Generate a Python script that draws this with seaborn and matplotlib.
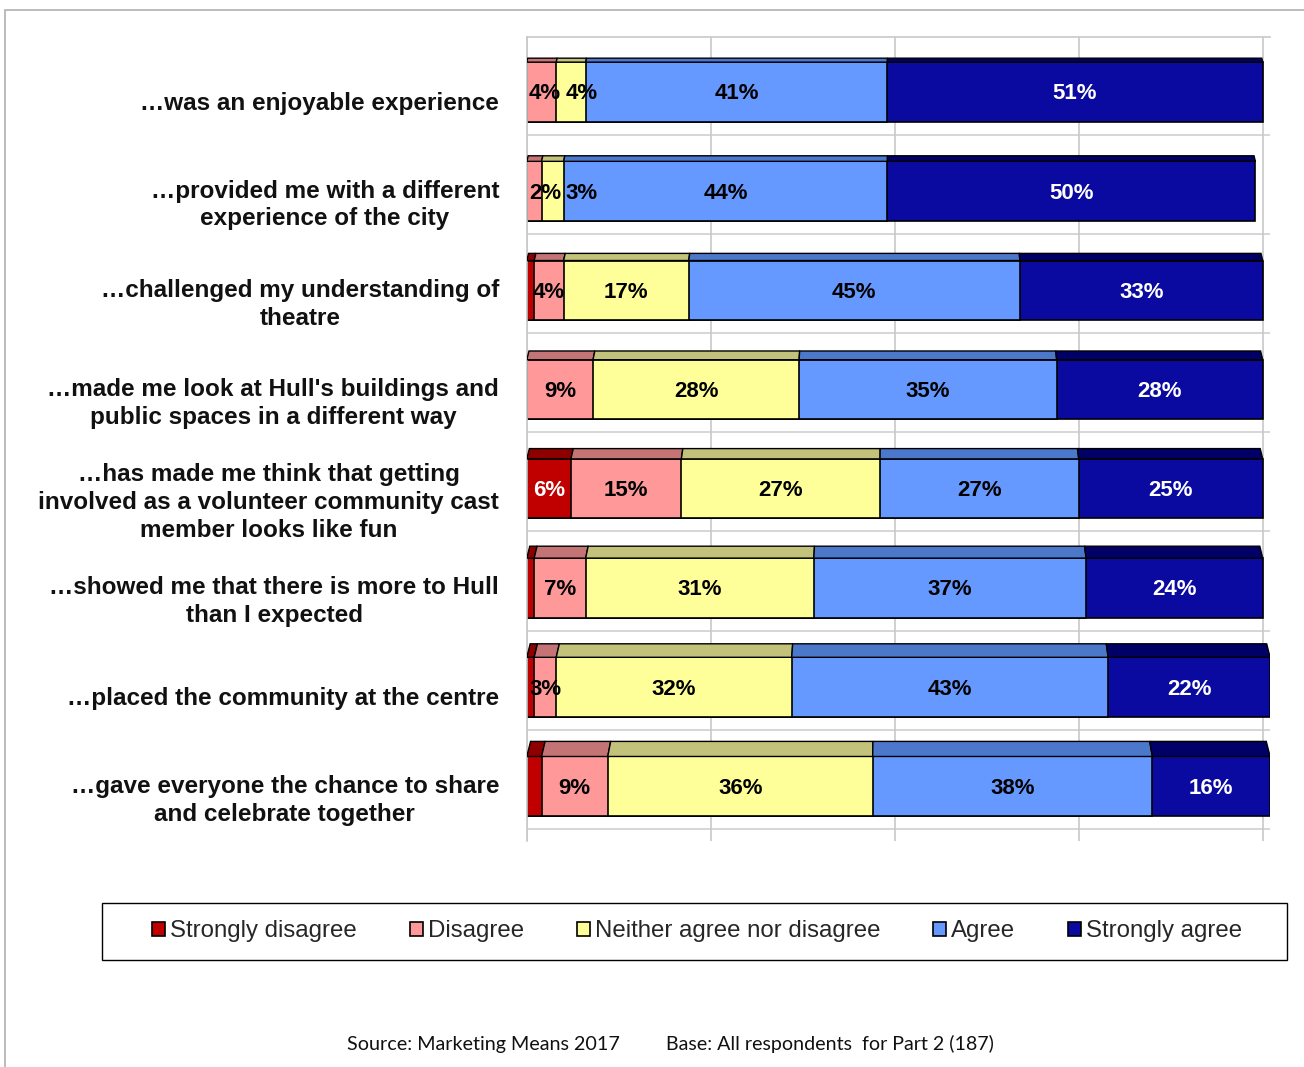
import numpy as np
import pandas as pd
import matplotlib.pyplot as plt
from matplotlib.patches import Polygon, Rectangle, Patch
from matplotlib.transforms import ScaledTranslation
import seaborn as sns

# ==========================================
# Data
# ==========================================
statements = [
    "\u2026was an enjoyable experience",
    "\u2026provided me with a different\nexperience of the city",
    "\u2026challenged my understanding of\ntheatre",
    "\u2026made me look at Hull's buildings and\npublic spaces in a different way",
    "\u2026has made me think that getting\ninvolved as a volunteer community cast\nmember looks like fun",
    "\u2026showed me that there is more to Hull\nthan I expected",
    "\u2026placed the community at the centre",
    "\u2026gave everyone the chance to share\nand celebrate together",
]

levels = [
    "Strongly disagree",
    "Disagree",
    "Neither agree nor disagree",
    "Agree",
    "Strongly agree",
]

strongly_disagree = [0, 0, 1, 0, 6, 1, 1, 2]
disagree = [4, 2, 4, 9, 15, 7, 3, 9]
neither = [4, 3, 17, 28, 27, 31, 32, 36]
agree = [41, 44, 45, 35, 27, 37, 43, 38]
strongly_agree = [51, 50, 33, 28, 25, 24, 22, 16]

front_colors = ["#C00000", "#FF9999", "#FFFF99", "#6699FF", "#0A0AA0"]
top_colors = ["#8E0000", "#C47474", "#C2C27A", "#4C78CC", "#000066"]
label_colors = ["white", "black", "black", "black", "white"]
label_min = [3, 2, 2, 2, 2]

# ==========================================
# Build long table with cumulative ends
# ==========================================
values = np.array([strongly_disagree, disagree, neither, agree, strongly_agree])
cum = values.cumsum(axis=0)

rows = []
for j, lvl in enumerate(levels):
    for i, st in enumerate(statements):
        rows.append({
            "statement": st,
            "level": lvl,
            "value": values[j, i],
            "end": cum[j, i],
        })
df = pd.DataFrame(rows)

# ==========================================
# Figure
# ==========================================
sns.set_theme(style="white")
plt.rcParams["font.family"] = ["Liberation Sans", "DejaVu Sans"]

fig = plt.figure(figsize=(13.04, 10.67), dpi=100)
ax_pos = [0.404, 0.212, 0.570, 0.753]
ax = fig.add_axes(ax_pos)

bar_h = 0.6
label_size = 16

# stacked bars: draw largest cumulative first
for j in reversed(range(len(levels))):
    sns.barplot(
        data=df[df["level"] == levels[j]],
        x="end",
        y="statement",
        orient="h",
        color=front_colors[j],
        saturation=1,
        edgecolor="black",
        linewidth=1.2,
        width=bar_h,
        ax=ax,
    )

# 3D top faces (deeper for lower rows, slight perspective toward centre)
k = 0.067
for i in range(len(statements)):
    yt = i - bar_h / 2
    depth = 0.04 + 0.016 * i
    for j in range(len(levels)):
        v = values[j, i]
        if v <= 0:
            continue
        left = cum[j, i] - v
        right = cum[j, i]
        poly = Polygon(
            [
                (left, yt),
                (right, yt),
                (right + (50 - right) * k * depth, yt - depth),
                (left + (50 - left) * k * depth, yt - depth),
            ],
            closed=True,
            facecolor=top_colors[j],
            edgecolor="black",
            linewidth=1.0,
            zorder=3,
        )
        ax.add_patch(poly)

# value labels (push small neighbouring labels apart)
px_per_unit = ax_pos[2] * 1304 / 101
em_px = label_size * 100 / 72
for i in range(len(statements)):
    prev_right = -1e9
    for j in range(len(levels)):
        v = values[j, i]
        if v < label_min[j]:
            continue
        txt = f"{v}%"
        w = (0.556 * (len(txt) - 1) + 0.889) * em_px / px_per_unit
        x = cum[j, i] - v / 2
        x = max(x, w / 2 + 0.3, prev_right + w / 2 + 0.6)
        prev_right = x + w / 2
        ax.text(
            x,
            i + 0.02,
            txt,
            ha="center",
            va="center",
            fontsize=label_size,
            fontweight="bold",
            color=label_colors[j],
            zorder=5,
        )

# axes styling
ax.set_xlim(0, 101)
ax.set_ylim(len(statements) - 0.45, -0.55)
ax.set_xticks([0, 25, 50, 75, 100])
ax.set_xticklabels([])
ax.tick_params(axis="x", length=0)
ax.grid(axis="x", color="#c8c8c8", linewidth=1.2)
ax.set_axisbelow(True)
for i in range(len(statements)):
    ax.axhline(i + 0.43, color="#d0d0d0", linewidth=1.2, zorder=0)

ax.set_xlabel("")
ax.set_ylabel("")
ax.set_yticks(range(len(statements)))
ax.set_yticklabels(statements, fontsize=17.5, fontweight="bold", color="#111111",
                   multialignment="center", linespacing=1.27)
ax.tick_params(axis="y", length=0, pad=20)

# labels sit a little below the bar centres in the original
offset = ScaledTranslation(0, -9 / 100, fig.dpi_scale_trans)
for lbl in ax.get_yticklabels():
    lbl.set_transform(lbl.get_transform() + offset)

for side in ["bottom", "right"]:
    ax.spines[side].set_visible(False)
for side in ["left", "top"]:
    ax.spines[side].set_color("#c8c8c8")
    ax.spines[side].set_linewidth(1.2)

# legend
handles = [
    Patch(facecolor=c, edgecolor="black", linewidth=1.2, label=l)
    for c, l in zip(front_colors, levels)
]
fig.legend(
    handles=handles,
    loc="center",
    bbox_to_anchor=(0.5345, 0.127),
    ncol=5,
    fontsize=17.3,
    frameon=False,
    handlelength=0.55,
    handleheight=0.55,
    handletextpad=0.2,
    columnspacing=2.2,
)
fig.add_artist(Rectangle((0.078, 0.1003), 0.909, 0.0534, transform=fig.transFigure,
                         fill=False, edgecolor="black", linewidth=1.0))

# source line
fig.text(0.266, 0.0215, "Source: Marketing Means 2017", fontsize=14.2,
         family=["Lato", "DejaVu Sans"], color="#111111", va="center")
fig.text(0.5107, 0.0215, "Base: All respondents  for Part 2 (187)", fontsize=14.1,
         family=["Lato", "DejaVu Sans"], color="#111111", va="center")

# outer frame
fig.add_artist(Rectangle((0.0038, -0.05), 1.2, 1.0406, transform=fig.transFigure,
                         fill=False, edgecolor="#b0b0b0", linewidth=1.2))

fig.savefig("out.png", dpi=100)
plt.close(fig)
